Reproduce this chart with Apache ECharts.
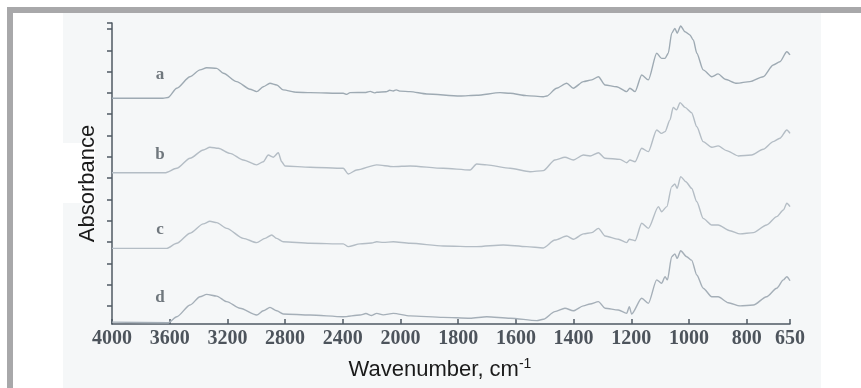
<!DOCTYPE html>
<html>
<head>
<meta charset="utf-8">
<script src="https://cdn.jsdelivr.net/npm/echarts@6/dist/echarts.min.js"></script>
<style>
  html, body { margin: 0; padding: 0; background: #fff; }
  #chart { width: 861px; height: 388px; }
</style>
</head>
<body>
<div id="chart"></div>
<script>
// wavenumber tick labels (axis changes scale at 2000 cm-1)
const tickWavenumbers = [4000, 3600, 3200, 2800, 2400, 2000, 1800, 1600, 1400, 1200, 1000, 800, 650];
const yTicks = [0, 1, 2, 3, 4, 5, 6, 7, 8, 9, 10, 11, 12, 13, 13.28];

// spectra, [wavenumber, absorbance (offset)]
const specA = [[4000,9.75],[3646,9.75],[3612,9.78],[3551,10.22],[3459,10.76],[3390,11.08],[3344,11.18],[3274,11.15],[3228,10.92],[3136,10.53],[3043,10.17],[2997,10.06],[2951,10.29],[2905,10.45],[2858,10.37],[2813,10.14],[2720,10.03],[2627,10.01],[2397,9.98],[2373,9.93],[2350,10.01],[2240,10.02],[2210,10.07],[2180,10.0],[2165,10.03],[2100,10.05],[2075,10.12],[2050,10.09],[2030,10.14],[2000,10.08],[1967,10.06],[1909,9.95],[1794,9.85],[1736,9.89],[1655,10.01],[1620,9.98],[1563,9.87],[1505,9.82],[1493,9.85],[1459,10.22],[1424,10.45],[1401,10.22],[1366,10.53],[1337,10.61],[1314,10.76],[1291,10.37],[1251,10.29],[1216,10.06],[1205,10.22],[1187,10.06],[1164,10.84],[1141,10.61],[1112,11.86],[1095,11.62],[1083,11.62],[1072,11.86],[1060,12.8],[1049,13.03],[1041,12.8],[1029,13.14],[1014,12.87],[997,12.72],[985,12.48],[973,11.86],[951,11.08],[921,10.76],[899,10.89],[875,10.64],[835,10.45],[789,10.53],[743,10.76],[708,11.31],[685,11.46],[661,11.93],[650,11.78]];
const specB = [[4000,6.25],[3633,6.25],[3551,6.46],[3459,6.93],[3367,7.32],[3321,7.45],[3263,7.40],[3182,7.16],[3090,6.85],[2997,6.62],[2951,6.77],[2917,7.08],[2882,6.98],[2847,7.19],[2824,6.77],[2801,6.57],[2627,6.51],[2397,6.46],[2362,6.19],[2304,6.38],[2165,6.62],[2050,6.54],[1967,6.57],[1852,6.46],[1759,6.38],[1736,6.66],[1701,6.62],[1620,6.46],[1551,6.30],[1505,6.35],[1465,6.85],[1430,6.98],[1401,6.85],[1366,7.08],[1343,7.04],[1314,7.19],[1291,6.93],[1239,6.88],[1216,6.72],[1205,6.85],[1187,6.77],[1164,7.40],[1141,7.24],[1112,8.26],[1095,8.10],[1083,8.18],[1066,8.73],[1055,9.32],[1043,9.20],[1031,9.54],[1014,9.32],[991,9.07],[973,8.41],[951,7.71],[921,7.45],[899,7.51],[870,7.29],[829,7.04],[783,7.08],[743,7.35],[708,7.71],[685,7.87],[661,8.26],[650,8.10]];
const specC = [[4000,2.70],[3621,2.70],[3551,2.94],[3459,3.41],[3367,3.85],[3321,3.97],[3274,3.91],[3205,3.64],[3090,3.17],[2997,2.97],[2939,3.17],[2893,3.33],[2858,3.17],[2813,3.01],[2627,2.94],[2397,2.91],[2362,2.78],[2281,2.91],[2200,2.95],[2165,3.01],[2120,2.98],[2050,3.01],[1967,2.94],[1852,2.81],[1736,2.78],[1644,2.86],[1563,2.78],[1505,2.72],[1465,3.09],[1424,3.28],[1401,3.13],[1366,3.38],[1337,3.44],[1314,3.64],[1291,3.28],[1245,3.13],[1216,2.97],[1207,3.13],[1187,3.06],[1164,3.88],[1141,3.64],[1106,4.66],[1095,4.42],[1077,4.66],[1060,5.60],[1049,5.72],[1041,5.52],[1029,6.07],[1011,5.83],[991,5.52],[973,4.89],[951,4.11],[921,3.80],[899,3.80],[858,3.53],[823,3.38],[777,3.44],[731,3.80],[696,4.19],[673,4.50],[661,4.82],[650,4.66]];
const specD = [[4000,-0.76],[3610,-0.79],[3551,-0.51],[3459,0.04],[3390,0.43],[3344,0.54],[3274,0.46],[3205,0.20],[3113,-0.11],[2997,-0.43],[2951,-0.23],[2905,-0.07],[2858,-0.23],[2813,-0.38],[2627,-0.43],[2397,-0.51],[2281,-0.43],[2240,-0.36],[2200,-0.45],[2165,-0.35],[2120,-0.42],[2050,-0.35],[1967,-0.47],[1852,-0.54],[1759,-0.58],[1701,-0.51],[1620,-0.58],[1528,-0.69],[1505,-0.63],[1465,-0.27],[1430,-0.11],[1401,-0.23],[1366,0.00],[1343,0.09],[1314,0.20],[1291,-0.11],[1245,-0.19],[1216,-0.35],[1207,-0.04],[1199,-0.38],[1164,0.36],[1141,0.12],[1112,1.22],[1095,1.06],[1083,1.37],[1075,1.22],[1060,2.31],[1049,2.44],[1041,2.23],[1029,2.59],[1008,2.31],[991,2.15],[973,1.45],[951,0.83],[921,0.43],[899,0.43],[864,0.15],[823,0.00],[777,0.04],[731,0.43],[696,0.83],[673,1.22],[661,1.37],[650,1.18]];

const curveNames = ['a', 'b', 'c', 'd'];
const curveLabelPos = [[3667, 10.84], [3667, 7.08], [3667, 3.56], [3667, 0.37]];

// position on the broken axis: 400 cm-1 per unit above 2000, 200 below
const toAxis = (w) => w >= 2000 ? (4000 - w) / 400 : 5 + (2000 - w) / 200;
const fromAxis = (u) => Math.round(u <= 5 ? 4000 - 400 * u : 2000 - 200 * (u - 5));

const lineColors = ['#9eaab3', '#b4bdc5', '#b4bdc5', '#a5afb8'];
const axisColor = '#4f5a63';
const tickFont = { fontFamily: 'Liberation Serif', fontWeight: 'bold', fontSize: 20, color: '#4d545c' };

const chart = echarts.init(document.getElementById('chart'), null, { renderer: 'canvas' });

const series = [specA, specB, specC, specD].map((spec, i) => ({
    name: curveNames[i],
    type: 'line',
    showSymbol: false,
    smooth: 0.25,
    smoothMonotone: 'x',
    lineStyle: { color: lineColors[i], width: 1.4 },
    data: spec.map(p => [toAxis(p[0]), p[1]])
}));

series.push({
    type: 'scatter',
    symbolSize: 0,
    silent: true,
    data: curveLabelPos.map((p, i) => ({ name: curveNames[i], value: [toAxis(p[0]), p[1]] })),
    label: {
        show: true,
        position: 'inside',
        formatter: '{b}',
        fontFamily: 'Liberation Serif',
        fontWeight: 'bold',
        fontSize: 17,
        color: '#4e565e'
    }
});

chart.setOption({
    animation: false,
    backgroundColor: '#ffffff',
    graphic: [
        { type: 'rect', z: -10, shape: { x: 63, y: 13, width: 758, height: 375 }, style: { fill: '#f5f7f8' } },
        { type: 'rect', z: -9, shape: { x: 63, y: 143, width: 32, height: 60 }, style: { fill: '#ffffff' } },
        { type: 'rect', z: -8, shape: { x: 7, y: 7, width: 854, height: 6 }, style: { fill: '#a8a8aa' } },
        { type: 'rect', z: -8, shape: { x: 7, y: 7, width: 6, height: 381 }, style: { fill: '#a8a8aa' } }
    ],
    grid: { left: 112, right: 71, top: 23, bottom: 64 },
    xAxis: {
        type: 'value',
        min: 0,
        max: toAxis(650),
        splitLine: { show: false },
        name: '{t|Wavenumber, cm}{s|-1}',
        nameLocation: 'middle',
        nameGap: 33,
        nameTextStyle: {
            padding: [0, 22, 0, 0],
            rich: {
                t: { fontFamily: 'Liberation Sans', fontSize: 22, color: '#1a1a1a', lineHeight: 26 },
                s: { fontFamily: 'Liberation Sans', fontSize: 14, color: '#1a1a1a', verticalAlign: 'top', lineHeight: 16 }
            }
        },
        axisLine: { onZero: false, lineStyle: { color: axisColor, width: 1.5 } },
        axisTick: { inside: true, length: 5, lineStyle: { color: axisColor, width: 1.5 }, customValues: tickWavenumbers.map(toAxis) },
        axisLabel: Object.assign({ margin: 5, customValues: tickWavenumbers.map(toAxis), formatter: (u) => String(fromAxis(u)) }, tickFont)
    },
    yAxis: {
        type: 'value',
        min: -0.85,
        max: 13.28,
        splitLine: { show: false },
        name: 'Absorbance',
        nameLocation: 'middle',
        nameRotate: 90,
        nameGap: 13,
        nameTextStyle: { fontFamily: 'Liberation Sans', fontSize: 22, color: '#1a1a1a', padding: [0, 20, 0, 0] },
        axisLine: { onZero: false, lineStyle: { color: axisColor, width: 1.5 } },
        axisTick: { length: 5, lineStyle: { color: axisColor, width: 1.5 }, customValues: yTicks },
        axisLabel: { show: false }
    },
    series: series
});
</script>
</body>
</html>
